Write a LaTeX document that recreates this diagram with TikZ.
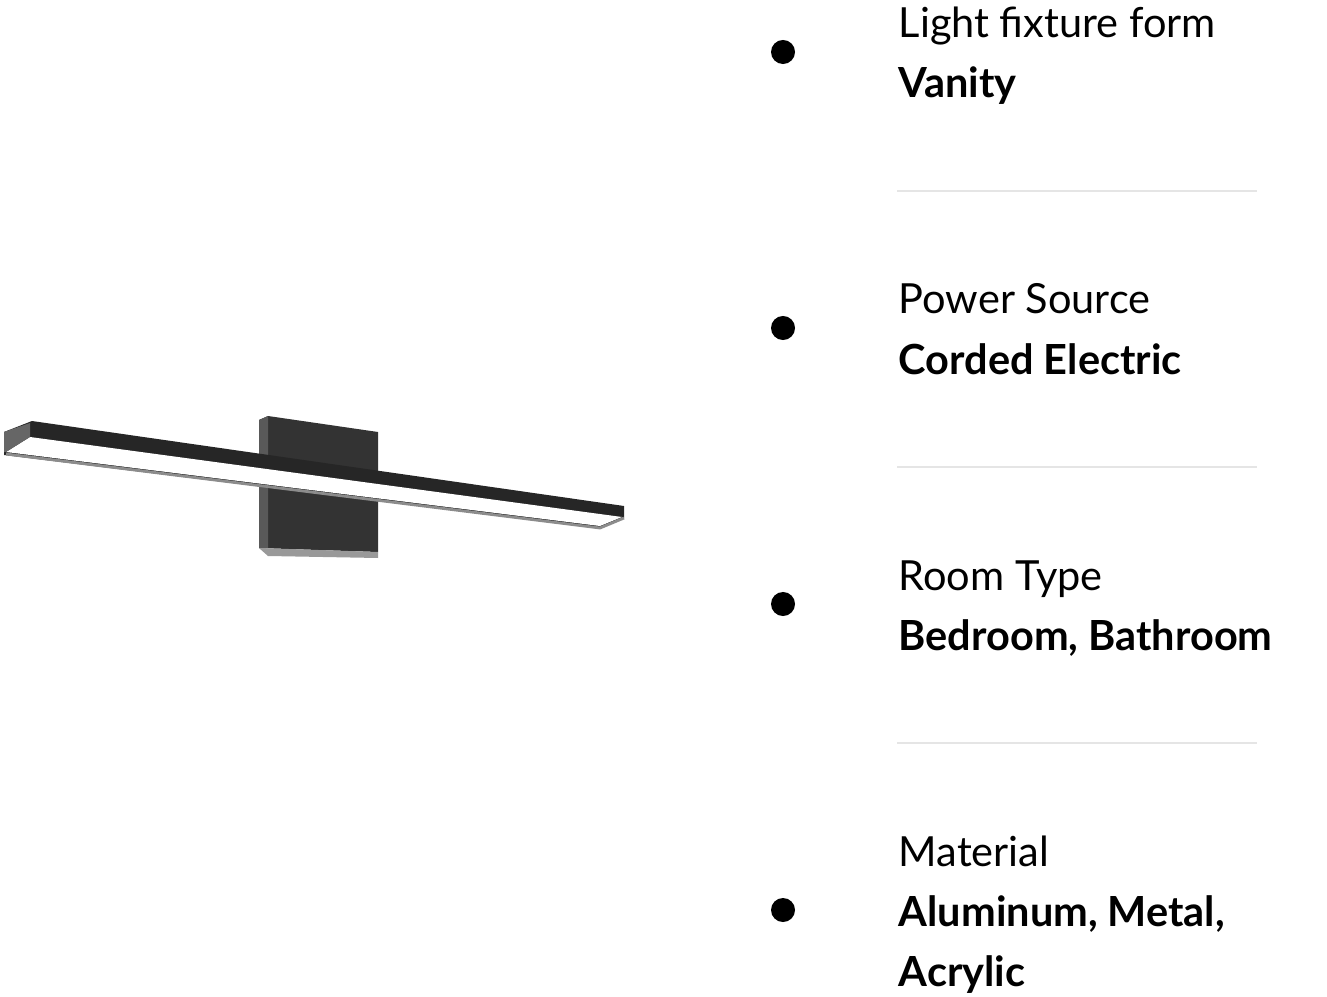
\documentclass[tikz,border=0pt]{standalone}
\usepackage{fontspec}
\setmainfont{Lato}
\begin{document}
\begin{tikzpicture}[x=0.01cm,y=-0.01cm,
  lab/.style={anchor=base west,inner sep=0pt,font=\fontsize{11.8pt}{14pt}\selectfont},
  val/.style={lab,font=\fontsize{11.8pt}{14pt}\selectfont\bfseries},
  dot/.style={circle,fill=black,minimum size=0.24cm,inner sep=0pt},
  sep/.style={draw=black!10,line width=0.6pt}]
\useasboundingbox (0,0) rectangle (1327,997);
% back plate
\fill[black!80] (259,420) -- (268,416) -- (378,432) -- (378,552) -- (259,548) -- cycle;
\fill[black!65] (259,420) -- (268,416) -- (268,548) -- (259,548) -- cycle;
\fill[black!40] (259,548) -- (378,552) -- (378,558) -- (268,556) -- cycle;
% bar
\fill[black!85] (32,421) -- (624,506) -- (624,518) -- (600,528) -- (4,455) -- (4,432) -- cycle;
\fill[white] (30,437) -- (622,517) -- (600,526) -- (6,452) -- cycle;
\fill[black!60] (4,432) -- (30,423) -- (30,437) -- (6,452) -- (4,452) -- cycle;
\draw[black!45,line width=0.8pt] (6,454) -- (600,528) -- (624,518);
% bullets and texts
\foreach \y/\n in {52/a,328/b,604/c,910/d} \node[dot] (\n) at (783,\y) {};
\node[lab] (t1) at (898,38) {Light fixture form};
\node[val] (v1) at (898,98) {Vanity};
\node[lab] (t2) at (898,314) {Power Source};
\node[val] (v2) at (898,374) {Corded Electric};
\node[lab] (t3) at (898,590) {Room Type};
\node[val] (v3) at (898,650) {Bedroom, Bathroom};
\node[lab] (t4) at (898,866) {Material};
\node[val] (v4) at (898,926) {Aluminum, Metal,};
\node[val] (v5) at (898,986) {Acrylic};
\draw[sep] (897,191) -- (1257,191);
\draw[sep] (897,467) -- (1257,467);
\draw[sep] (897,743) -- (1257,743);
\end{tikzpicture}
\end{document}
